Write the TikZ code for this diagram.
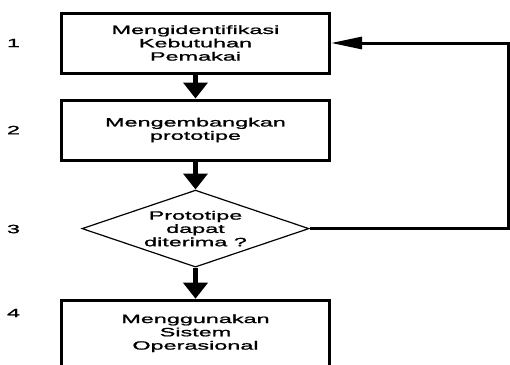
\documentclass[tikz,border=0pt]{standalone}
\usepackage{fontspec}
\setmainfont[FakeStretch=1.95,FakeBold=1.3]{Liberation Sans}
\usetikzlibrary{arrows.meta,positioning,shapes.geometric}
\tikzstyle{proc}=[rectangle,draw,line width=3pt,minimum width=268pt,
minimum height=60pt,align=center,inner sep=0pt]
\tikzstyle{decision}=[diamond,draw,line width=1.2pt,minimum width=227pt,
minimum height=77pt,aspect=2.95,align=center,inner sep=0pt]
\tikzstyle{stepnum}=[inner sep=0pt]
\tikzstyle{flow}=[line width=5pt,-{Triangle[width=24pt,length=16pt]}]
\tikzstyle{back}=[line width=3pt,-{Triangle[width=12pt,length=31pt]}]

\begin{document}
\begin{tikzpicture}[x=1pt,y=-1pt,font=\fontsize{12}{13.3}\selectfont]
            \useasboundingbox (0,0) rectangle (510,364);
            \clip (0,0) rectangle (510,364);

            % STEPS

            \node[proc] (b1) at (195.5,43) {Mengidentifikasi\\Kebutuhan\\Pemakai};
            \node[proc,below=24pt of b1] (b2) {Mengembangkan\\prototipe};
            \node[decision,below=28pt of b2] (d3) {Prototipe\\dapat\\diterima ?};
            \node[proc,below=31pt of d3,minimum height=66pt] (b4) {Menggunakan\\Sistem\\Operasional};

            % NUMBERS

            \node[stepnum] (n1) at (13.5,43) {1};
            \node[stepnum] (n2) at (13.5,130) {2};
            \node[stepnum] (n3) at (13.5,229) {3};
            \node[stepnum] (n4) at (13.5,313) {4};

            % FLOW

            \path[flow] (b1) edge node {} (b2);
            \path[flow] (b2) edge node {} (d3);
            \path[flow] (d3) edge node {} (b4);

            % BACK TO STEP 1

            \coordinate[right=177pt of b1] (fb);
            \draw[back] (d3.east) -| (fb) -- (b1.east);

        \end{tikzpicture}
\end{document}
